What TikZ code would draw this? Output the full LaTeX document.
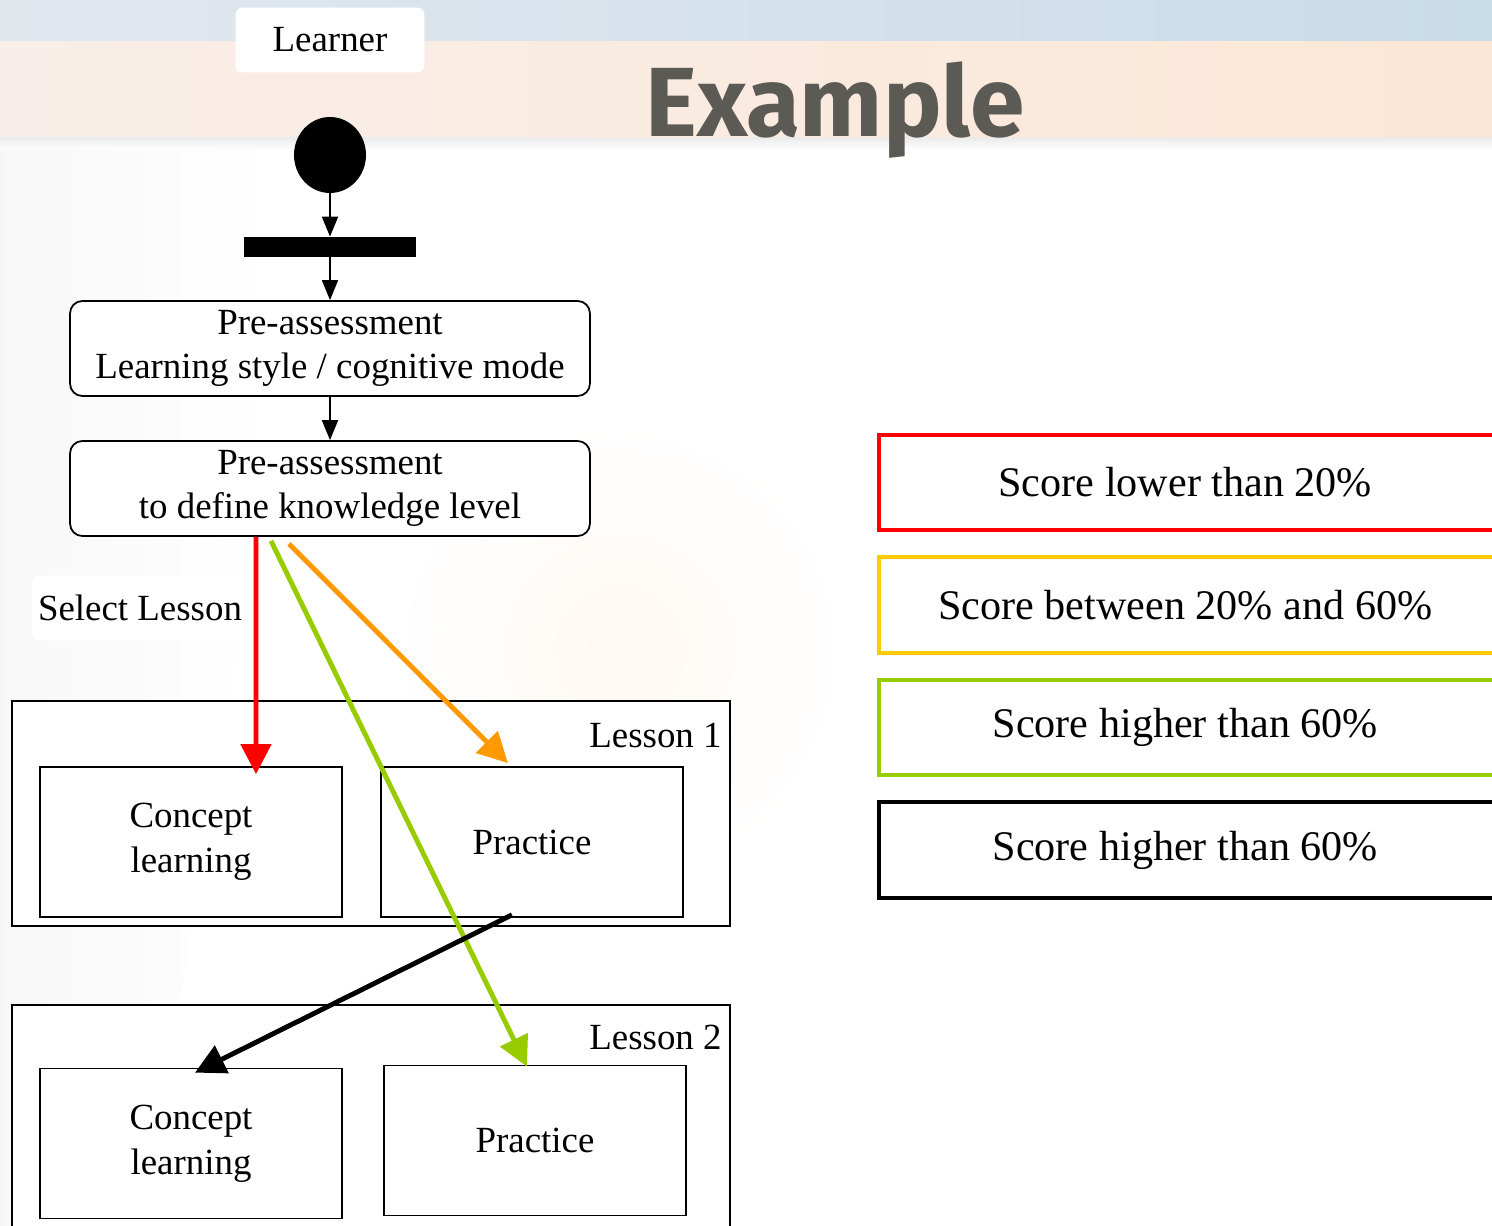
\documentclass[tikz,border=0pt]{standalone}
\usepackage{fontspec}
\setmainfont{Liberation Serif}
\newfontfamily\titlefont{Fira Sans}
\usetikzlibrary{shapes.geometric,arrows.meta}

\definecolor{scorered}{HTML}{FF0000}
\definecolor{scoreorange}{HTML}{FF9900}
\definecolor{scoregreen}{HTML}{99CC00}
\definecolor{scoreyellow}{HTML}{FFCC00}
\definecolor{titlegray}{HTML}{5C5A55}
\definecolor{bandblueA}{HTML}{E2E7EE}
\definecolor{bandblueB}{HTML}{C9DCEA}
\definecolor{bandpeachA}{HTML}{F8EEE9}
\definecolor{bandpeachB}{HTML}{FCE7D6}

\begin{document}
\begin{tikzpicture}[x=0.02cm,y=-0.02cm,
  every node/.style={font=\fontsize{21}{25.5}\selectfont},
  tag/.style={fill=white,rounded corners=4pt,minimum height=1.3cm},
  startnode/.style={ellipse,fill=black,minimum width=1.44cm,minimum height=1.52cm,inner sep=0pt},
  forkbar/.style={rectangle,fill=black,minimum width=3.44cm,minimum height=0.4cm,inner sep=0pt},
  activity/.style={draw,rounded corners=7pt,line width=1pt,fill=white,minimum width=10.4cm,minimum height=1.9cm,align=center},
  lesson/.style={draw,line width=1pt,fill=white,minimum width=14.36cm,minimum height=4.5cm},
  part/.style={draw,line width=1pt,minimum width=6.04cm,minimum height=3cm,align=center},
  legend/.style={minimum height=1.9cm,font=\fontsize{24}{28}\selectfont},
  flow/.style={-{Triangle[length=0.4cm,width=0.32cm]},line width=1pt},
  choice/.style={-{Triangle[length=0.6cm,width=0.6cm]},line width=2.8pt}]

\useasboundingbox (0,0) rectangle (1492,1226);
\clip (0,0) rectangle (1492,1226);

% slide background
\fill[white] (0,0) rectangle (1492,1226);
\shade[left color=gray!6,right color=white] (0,145) -- (270,145) -- (250,560) -- (180,1000) -- (10,1226) -- (0,1226) -- cycle;
\shade[inner color=orange!5,outer color=white] (620,650) circle (230);
\shade[left color=bandblueA,right color=bandblueB] (0,0) rectangle (1492,42);
\shade[left color=bandpeachA,right color=bandpeachB] (0,42) rectangle (1492,138);
\shade[top color=gray!15,bottom color=white] (0,138) rectangle (1492,150);

\node[font=\titlefont\bfseries\fontsize{56}{60}\selectfont,text=titlegray] (title) at (835,110) {Example};

% activity diagram
\node[tag,minimum width=3.78cm] (learner) at (330,40) {Learner};
\node[startnode] (start) at (330,155) {};
\node[forkbar] (fork) at (330,247) {};
\node[activity] (preStyle) at (330,348.5) {Pre-assessment\\Learning style / cognitive mode};
\node[activity] (preLevel) at (330,488.5) {Pre-assessment\\to define knowledge level};
\node[tag,minimum width=4.2cm] (select) at (140,608) {Select Lesson};

\draw[flow] (start) -- (fork);
\draw[flow] (fork) -- (preStyle);
\draw[flow] (preStyle) -- (preLevel);

% lessons
\node[lesson] (lessonA) at (371,813.5) {};
\node[anchor=north east] at ([xshift=-0.06cm,yshift=-0.34cm]lessonA.north east) {Lesson 1};
\node[part] (conceptA) at (191,842) {Concept\\learning};
\node[part] (practiceA) at (532,842) {Practice};

\node[lesson] (lessonB) at (371,1117.5) {};
\node[anchor=north east] at ([xshift=-0.06cm,yshift=-0.3cm]lessonB.north east) {Lesson 2};
\node[part] (conceptB) at (191,1143.5) {Concept\\learning};
\node[part] (practiceB) at (535,1140.5) {Practice};

% score paths
\draw[choice,scorered] ([xshift=-1.48cm]preLevel.south) -- ([xshift=1.3cm,yshift=-0.16cm]conceptA.north);
\draw[choice,scoregreen] ([xshift=-1.18cm,yshift=-0.08cm]preLevel.south) -- ([xshift=-0.16cm,yshift=-0.04cm]practiceB.north);
\draw[choice,scoreorange] ([xshift=-0.82cm,yshift=-0.14cm]preLevel.south) -- ([xshift=-0.48cm,yshift=0.06cm]practiceA.north);
\draw[choice,black] ([xshift=-0.4cm,yshift=0.06cm]practiceA.south) -- ([xshift=0.08cm,yshift=-0.1cm]conceptB.north);

% legend
\node[legend,anchor=west,minimum width=12.24cm] (low) at (879,482.5) {Score lower than 20\%};
\node[legend,anchor=west,minimum width=12.24cm] (mid) at (879,605) {Score between 20\%  and 60\%};
\node[legend,anchor=west,minimum width=12.24cm] (high) at (879,727.5) {Score higher than 60\%};
\node[legend,anchor=west,minimum width=12.24cm] (next) at (879,850) {Score higher than 60\%};
\foreach \nm/\col in {low/scorered,mid/scoreyellow,high/scoregreen,next/black}
  \draw[line width=2.3pt,\col] ([xshift=2cm]\nm.north east) -- (\nm.north west) -- (\nm.south west) -- ([xshift=2cm]\nm.south east);
\end{tikzpicture}
\end{document}
